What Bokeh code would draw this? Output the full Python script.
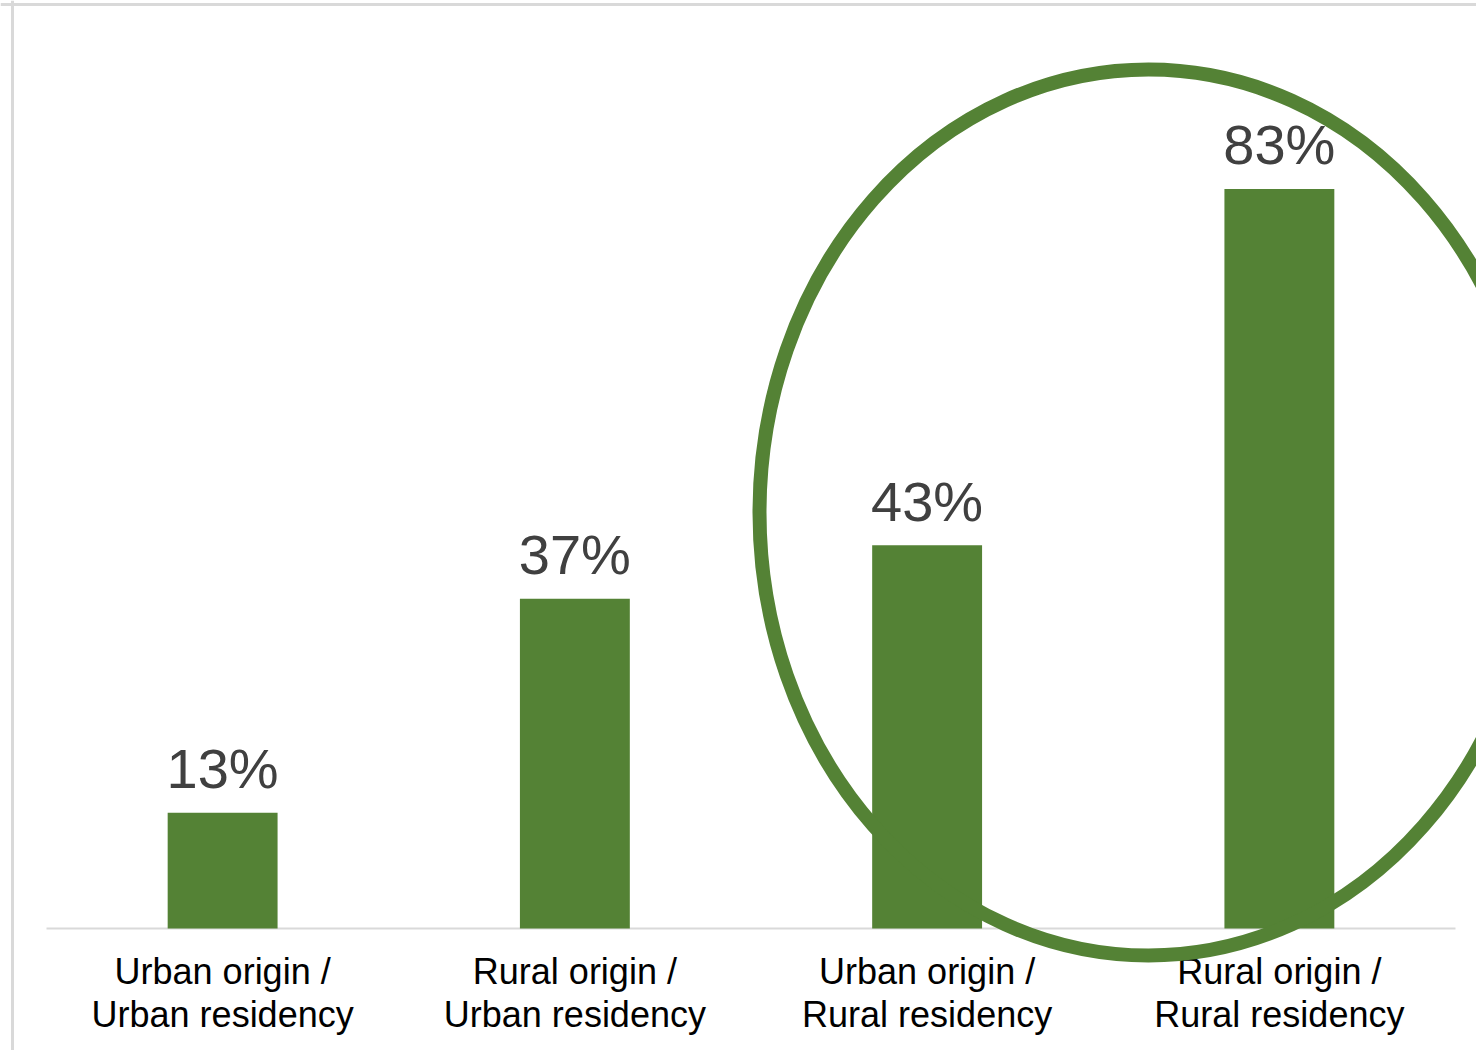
from bokeh.plotting import figure
from bokeh.models import ColumnDataSource, Range1d, Span
from bokeh.core.properties import value
from bokeh.embed import file_html
from bokeh.resources import INLINE

categories = ["Urban origin /\nUrban residency", "Rural origin /\nUrban residency",
              "Urban origin /\nRural residency", "Rural origin /\nRural residency"]
values = [13, 37, 43, 83]
value_labels = ["13%", "37%", "43%", "83%"]

GREEN = "#548235"
FONT = "Liberation Sans"

xs = [i + 0.5 for i in range(len(categories))]
src = ColumnDataSource(dict(x=xs, top=values, lab=value_labels, cat=categories, zero=[0] * len(values)))

W, H = 1476, 1050
# frame covers the whole canvas; ranges chosen so 0..4 spans the plot area and 0% sits on the axis line
px_per_unit = (1455 - 46) / 4.0
px_per_pct = 8.91
x_range = Range1d(-46 / px_per_unit, 4 + (W - 1455) / px_per_unit)
y_range = Range1d(-(H - 928) / px_per_pct, 928 / px_per_pct)

p = figure(width=W, height=H, x_range=x_range, y_range=y_range,
           x_axis_type=None, y_axis_type=None, toolbar_location=None,
           output_backend="svg", min_border=0, outline_line_color=None,
           background_fill_color="white", border_fill_color="white")
p.xgrid.visible = False
p.ygrid.visible = False

# chart border lines
p.add_layout(Span(location=12 / px_per_unit + x_range.start, dimension="height",
                  line_color="#d9d9d9", line_width=3))
p.add_layout(Span(location=y_range.end - 4 / px_per_pct, dimension="width",
                  line_color="#d9d9d9", line_width=3))

# axis baseline
p.segment(x0=[0], y0=[0], x1=[len(categories)], y1=[0], line_color="#d9d9d9", line_width=2)

p.vbar(x="x", top="top", bottom=0, width=0.312, source=src, fill_color=GREEN, line_color=None)

p.text(x="x", y="top", text="lab", source=src, text_align="center", text_baseline="alphabetic",
       y_offset=-44, text_font=value(FONT), text_font_size="56px", text_color="#404040")

p.text(x="x", y="zero", text="cat", source=src, text_align="center", text_baseline="top",
       y_offset=22, text_font=value(FONT), text_font_size="36px", text_color="#000000",
       text_line_height=1.05)

# highlight ellipse around the two rural residency bars
p.ellipse(x=[(1148 - 46) / px_per_unit], y=[(928 - 512) / px_per_pct], width=[778], height=[886],
          width_units="screen", height_units="screen", fill_color=None,
          line_color=GREEN, line_width=14)

open("out.html", "w").write(file_html(p, INLINE))
